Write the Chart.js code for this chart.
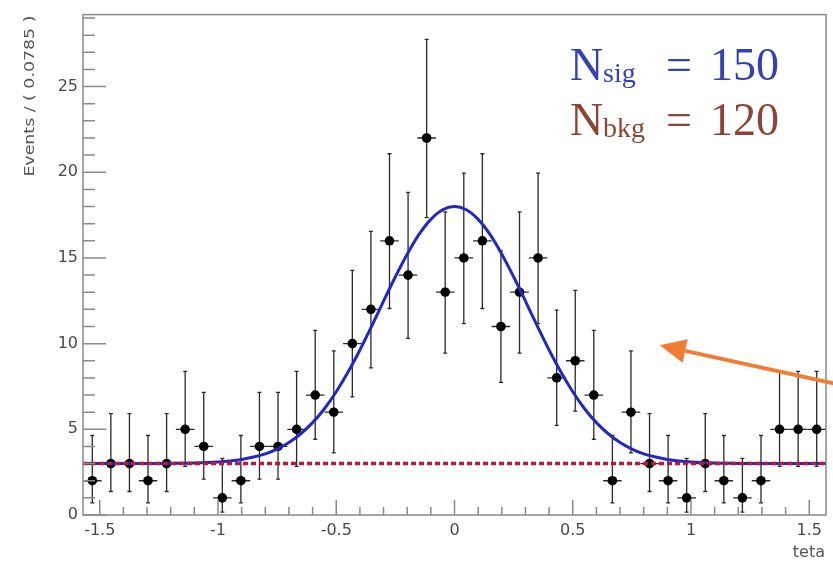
<!DOCTYPE html>
<html><head><meta charset="utf-8">
<script src="https://cdn.jsdelivr.net/npm/chart.js@4/dist/chart.umd.min.js"></script>
<style>html,body{margin:0;padding:0;background:#fff;}canvas{display:block;}</style>
</head><body>
<canvas id="c" width="833" height="569"></canvas>
<script>
// ---- data ----
const binCenters = [-1.5315,-1.4530,-1.3744,-1.2959,-1.2173,-1.1388,-1.0603,-0.9817,-0.9032,-0.8247,
  -0.7461,-0.6676,-0.5890,-0.5105,-0.4320,-0.3534,-0.2749,-0.1963,-0.1178,-0.0393,
  0.0393,0.1178,0.1963,0.2749,0.3534,0.4320,0.5105,0.5890,0.6676,0.7461,
  0.8247,0.9032,0.9817,1.0603,1.1388,1.2173,1.2959,1.3744,1.4530,1.5315];
const counts = [2,3,3,2,3,5,4,1,2,4, 4,5,7,6,10,12,16,14,22,13, 15,16,11,13,15,8,9,7,2,6, 3,2,1,3,2,1,2,5,5,5];
const errLow = [0.71,1.37,1.37,0.71,1.37,2.84,2.09,0.17,0.71,2.09, 2.09,2.84,4.42,3.62,6.89,8.59,12.05,10.31,17.35,9.45,
  11.17,12.05,7.74,9.45,11.17,5.23,6.06,4.42,0.71,3.62, 1.37,0.71,0.17,1.37,0.71,0.17,0.71,2.84,2.84,2.84];
const errHigh = [4.64,5.92,5.92,4.64,5.92,8.38,7.16,3.30,4.64,7.16, 7.16,8.38,10.77,9.58,14.27,16.55,21.08,18.83,27.76,17.69,
  19.95,21.08,15.41,17.69,19.95,11.95,13.11,10.77,4.64,9.58, 5.92,4.64,3.30,5.92,4.64,3.30,4.64,8.38,8.38,8.38];
const binHalfWidth = 0.03927;
const curveX = [-1.5708,-1.4,-1.3,-1.2,-1.1,-1.0,-0.95,-0.9,-0.85,-0.8,-0.75,-0.7,-0.65,-0.6,-0.55,-0.5,-0.45,-0.4,-0.35,-0.3,-0.25,-0.2,-0.15,-0.1,-0.05,
  0,0.05,0.1,0.15,0.2,0.25,0.3,0.35,0.4,0.45,0.5,0.55,0.6,0.65,0.7,0.75,0.8,0.85,0.9,0.95,1.0,1.1,1.2,1.3,1.4,1.5708];
const curveY = [3.0,3.0,3.0,3.01,3.03,3.09,3.15,3.24,3.38,3.57,3.85,4.23,4.74,5.39,6.2,7.19,8.34,9.63,11.03,12.48,13.9,15.22,16.37,17.25,17.81,
  18.0,17.81,17.25,16.37,15.22,13.9,12.48,11.03,9.63,8.34,7.19,6.2,5.39,4.74,4.23,3.85,3.57,3.38,3.24,3.15,3.09,3.03,3.01,3.0,3.0,3.0];
const bkgX = [-1.5708, 1.5708];
const bkgY = [3, 3];
const xRange = [-1.5708, 1.5708];
const yRange = [0, 29.2];
const xTickStep = 0.5, yTickStep = 5;
const xTitle = 'teta';
const yTitle = 'Events / ( 0.0785 )';
const sigLabel = ['N', 'sig', '=', '150'];
const bkgLabel = ['N', 'bkg', '=', '120'];
const arrowFrom = {x: 1.615, y: 7.64};
const arrowTo = {x: 0.868, y: 9.9};

const pts = binCenters.map((x, i) => ({x, y: counts[i]}));
const curvePts = curveX.map((x, i) => ({x, y: curveY[i]}));
const bkgPts = bkgX.map((x, i) => ({x, y: bkgY[i]}));

const decor = {
  id: 'decor',
  beforeDatasetsDraw(chart) {
    const {ctx, scales: {x, y}} = chart;
    ctx.save();
    ctx.strokeStyle = '#2a2a2a';
    ctx.lineWidth = 1.3;
    binCenters.forEach((c, i) => {
      const px = x.getPixelForValue(c);
      const py = y.getPixelForValue(counts[i]);
      const lo = y.getPixelForValue(errLow[i]);
      const hi = y.getPixelForValue(errHigh[i]);
      ctx.beginPath();
      ctx.moveTo(px, lo); ctx.lineTo(px, hi);
      ctx.moveTo(x.getPixelForValue(c - binHalfWidth), py);
      ctx.lineTo(x.getPixelForValue(c + binHalfWidth), py);
      ctx.moveTo(px - 2, hi); ctx.lineTo(px + 2, hi);
      ctx.moveTo(px - 2, lo); ctx.lineTo(px + 2, lo);
      ctx.stroke();
    });
    ctx.restore();
  },
  afterDraw(chart) {
    const {ctx, chartArea: a, scales: {x, y}} = chart;
    ctx.save();
    // frame
    ctx.strokeStyle = '#8a8a8a';
    ctx.lineWidth = 1.5;
    ctx.strokeRect(a.left, a.top, a.right - a.left, a.bottom - a.top);
    // ticks
    ctx.beginPath();
    for (let v = 0; v <= 29; v++) {
      const py = y.getPixelForValue(v);
      const len = v % 5 === 0 ? 23 : 12;
      ctx.moveTo(a.left, py); ctx.lineTo(a.left + len, py);
    }
    for (let k = -15; k <= 15; k++) {
      const px = x.getPixelForValue(k / 10);
      const len = k % 5 === 0 ? 15 : 8;
      ctx.moveTo(px, a.bottom); ctx.lineTo(px, a.bottom - len);
    }
    ctx.stroke();
    // axis titles
    ctx.fillStyle = '#555';
    ctx.font = '16px "DejaVu Sans"';
    ctx.textAlign = 'right';
    ctx.textBaseline = 'alphabetic';
    ctx.fillText(xTitle, a.right - 1, 557);
    ctx.save();
    ctx.translate(30, a.top + 1);
    ctx.rotate(-Math.PI / 2);
    ctx.font = '14px "DejaVu Sans"';
    const w = ctx.measureText(yTitle).width;
    ctx.scale(161 / w, 1);
    ctx.textAlign = 'right';
    ctx.textBaseline = 'middle';
    ctx.fillText(yTitle, 0, 0);
    ctx.restore();
    // annotation text
    const drawLabel = (parts, base, color) => {
      ctx.fillStyle = color;
      ctx.textAlign = 'left';
      ctx.textBaseline = 'alphabetic';
      ctx.font = '46px "Liberation Serif"';
      ctx.fillText(parts[0], 570, base);
      ctx.font = '28px "Liberation Serif"';
      ctx.fillText(parts[1], 603, base + 2);
      ctx.font = '46px "Liberation Serif"';
      ctx.fillText(parts[2], 666, base);
      ctx.fillText(parts[3], 710, base);
    };
    drawLabel(sigLabel, 80, '#3341b2');
    drawLabel(bkgLabel, 135, '#8c4533');
    // arrow
    const x0 = x.getPixelForValue(arrowFrom.x), y0 = y.getPixelForValue(arrowFrom.y);
    const x1 = x.getPixelForValue(arrowTo.x), y1 = y.getPixelForValue(arrowTo.y);
    const ang = Math.atan2(y1 - y0, x1 - x0);
    const hl = 26, hw = 12;
    const bx = x1 - hl * Math.cos(ang), by = y1 - hl * Math.sin(ang);
    ctx.strokeStyle = '#ef7d33';
    ctx.fillStyle = '#ef7d33';
    ctx.lineWidth = 4;
    ctx.beginPath();
    ctx.moveTo(x0, y0); ctx.lineTo(bx, by);
    ctx.stroke();
    ctx.beginPath();
    ctx.moveTo(x1, y1);
    ctx.lineTo(bx + hw * Math.sin(ang), by - hw * Math.cos(ang));
    ctx.lineTo(bx - hw * Math.sin(ang), by + hw * Math.cos(ang));
    ctx.closePath();
    ctx.fill();
    ctx.restore();
  }
};

new Chart(document.getElementById('c'), {
  type: 'scatter',
  data: {
    datasets: [
      {label: 'data', data: pts, pointRadius: 4.8, pointHoverRadius: 4.8, backgroundColor: '#000', borderColor: '#000', borderWidth: 0, order: 3},
      {type: 'line', label: 'total', data: curvePts, borderColor: '#2626c0', borderWidth: 3, pointRadius: 0, fill: false, cubicInterpolationMode: 'monotone', order: 2},
      {type: 'line', label: 'bkg', data: bkgPts, borderColor: '#b51a3c', borderWidth: 3.5, borderDash: [5, 3], pointRadius: 0, fill: false, order: 1}
    ]
  },
  options: {
    responsive: false,
    animation: false,
    events: [],
    layout: {padding: {left: 0, top: 11, right: 7, bottom: 0}},
    plugins: {legend: {display: false}, tooltip: {enabled: false}},
    scales: {
      x: {
        type: 'linear', min: xRange[0], max: xRange[1],
        grid: {display: false, drawTicks: false}, border: {display: false},
        afterFit: s => { s.height = 54; },
        ticks: {stepSize: xTickStep, includeBounds: false, padding: 6, color: '#4a4a4a', maxRotation: 0,
          font: {family: 'DejaVu Sans', size: 16},
          callback: v => String(Math.round(v * 10) / 10)}
      },
      y: {
        type: 'linear', min: yRange[0], max: yRange[1],
        grid: {display: false, drawTicks: false}, border: {display: false},
        afterFit: s => { s.width = 83; },
        ticks: {stepSize: yTickStep, includeBounds: false, padding: 5, color: '#4a4a4a',
          font: {family: 'DejaVu Sans', size: 16},
          callback: v => String(Math.round(v))}
      }
    }
  },
  plugins: [decor]
});
</script>
</body></html>
